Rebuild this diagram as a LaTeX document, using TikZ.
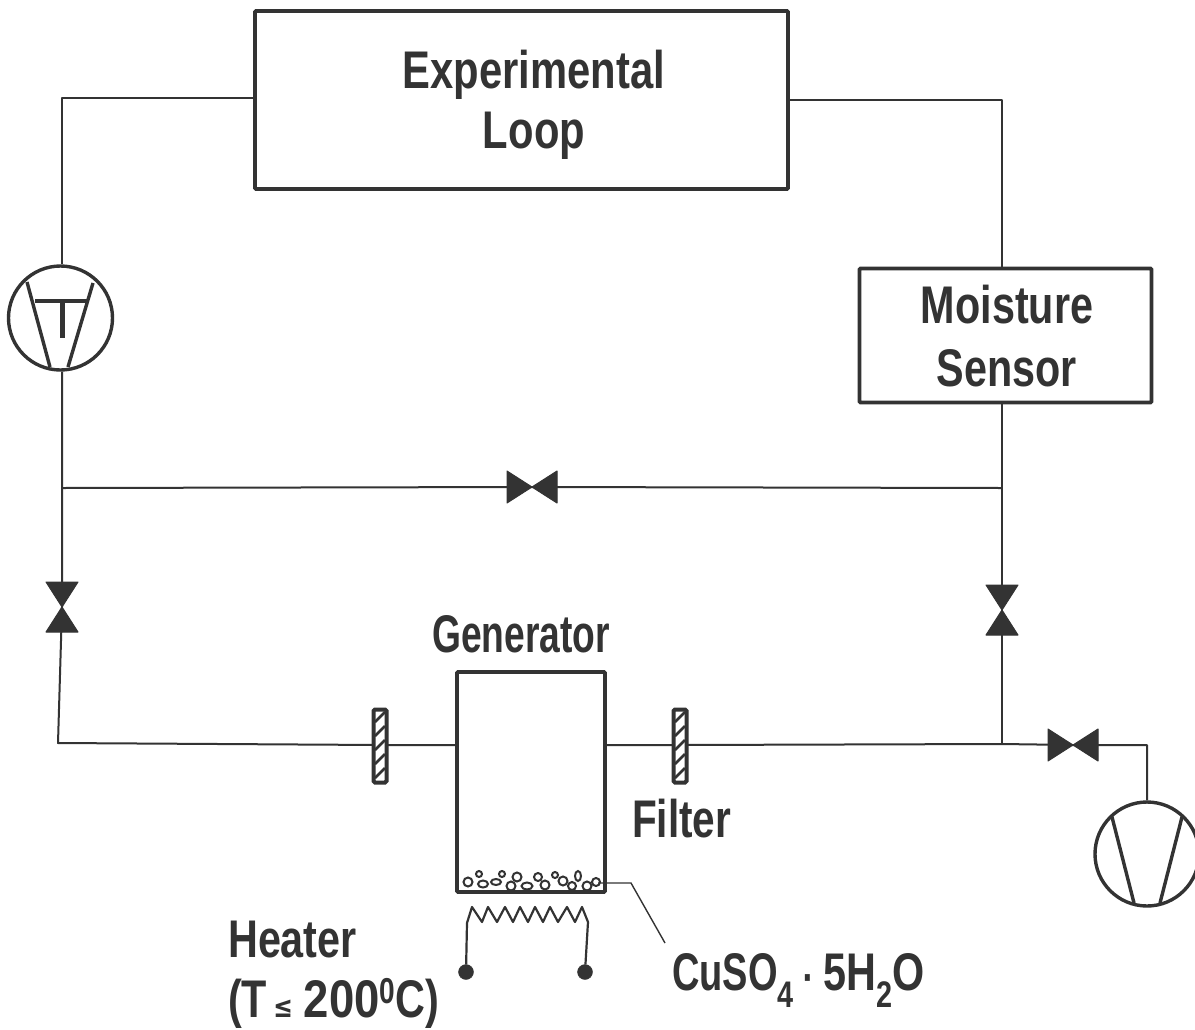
\documentclass[tikz,border=0pt]{standalone}
\usepackage{fontspec}
\setmainfont{Liberation Sans}
\newfontfamily\symfont{DejaVu Sans}
\definecolor{ink}{gray}{0.2}
\tikzset{
  x=1pt,y=-1pt,
  pipe/.style={draw=ink,line width=2pt,line join=round},
  thickbox/.style={draw=ink,line width=3.8pt,rounded corners=1pt,inner sep=0pt},
  lab/.style={text=ink,font=\fontsize{53}{60}\selectfont\bfseries,xscale=0.78,align=center,inner sep=0pt},
  valvefill/.style={fill=ink,draw=ink,line width=1pt,line join=round},
  pumpring/.style={draw=ink,line width=3.4pt,circle,minimum size=104pt,inner sep=0pt},
  pumpbar/.style={draw=ink,line width=3.4pt},
  filterbar/.style={draw=ink,line width=4pt,fill=white,rounded corners=1.5pt,minimum width=13pt,minimum height=73pt,inner sep=0pt},
  hatchline/.style={draw=ink,line width=2.6pt},
  grain/.style={draw=ink,line width=2pt,fill=white},
  terminal/.style={circle,fill=ink,draw=ink,minimum size=15pt,inner sep=0pt},
  heat/.style={draw=ink,line width=2.2pt,line join=round},
  leader/.style={draw=ink,line width=1.4pt},
}
\newcommand{\hvalve}[2]{%
  \filldraw[valvefill] (#1-25,#2-16) -- (#1,#2) -- (#1-25,#2+16) -- cycle;
  \filldraw[valvefill] (#1+25,#2-16) -- (#1,#2) -- (#1+25,#2+16) -- cycle;}
\newcommand{\vvalve}[2]{%
  \filldraw[valvefill] (#1-16,#2-25) -- (#1,#2) -- (#1+16,#2-25) -- cycle;
  \filldraw[valvefill] (#1-16,#2+25) -- (#1,#2) -- (#1+16,#2+25) -- cycle;}
\newcommand{\filterhatch}[1]{%
  \foreach \yy in {-28,-14,0,14,28}{\draw[hatchline] (#1-5,\yy+745+5) -- (#1+5,\yy+745-5);}}
\begin{document}
\begin{tikzpicture}
\useasboundingbox (0,0) rectangle (1195,1029);
% main nodes
\node[thickbox,minimum width=533pt,minimum height=178pt] (loop) at (521.5,100) {};
\node[lab,xscale=1.01] (looptext) at (534,104.5) {Experimental\\Loop};
\node[thickbox,minimum width=292pt,minimum height=134pt] (sensor) at (1005.5,335.5) {};
\node[lab,font=\fontsize{53}{63}\selectfont\bfseries] (sensortext) at (1007,336) {Moisture\\Sensor};
\node[thickbox,minimum width=148pt,minimum height=220pt] (gen) at (531,782) {};
\node[lab,xscale=0.9,anchor=base] (gentext) at (521,652) {Generator};
% pumps
\node[pumpring] (pumpT) at (60.5,318) {};
\node[pumpring] (pumpV) at (1147,854) {};
% junctions, corners
\coordinate (cTL) at (62,98);
\coordinate (jL) at (62,488);
\coordinate (vL) at (62,607);
\coordinate (cBL) at (58,743);
\coordinate (f1) at (380,745);
\coordinate (f2) at (680,745);
\coordinate (jR) at (1002,744);
\coordinate (jRU) at (1002,488);
\coordinate (vR) at (1002,610);
\coordinate (vM) at (532,487);
\coordinate (v3) at (1073,745);
\coordinate (cR) at (1147,745);
\coordinate (cTR) at (1002,100);
% pipes
\draw[pipe] (loop.west |- cTL) -- (cTL) -- (pumpT.north -| cTL);
\draw[pipe] (pumpT.south -| jL) -- (jL) -- (vL) -- (cBL) -- (f1) -- (gen.west |- f1);
\draw[pipe] (jL) -- (vM) -- (jRU);
\draw[pipe] (loop.east |- cTR) -- (cTR) -- (sensor.north -| cTR);
\draw[pipe] (sensor.south -| jRU) -- (jRU) -- (vR) -- (jR);
\draw[pipe] (gen.east |- f2) -- (f2) -- (jR) -- (v3) -- (cR) -- (pumpV.north);
% valves
\hvalve{532}{487}
\vvalve{62}{607}
\vvalve{1002}{610}
\hvalve{1073}{745}
% filters
\node[filterbar] (filterA) at (380,746) {};
\filterhatch{380}
\node[filterbar] (filterB) at (680,746) {};
\filterhatch{680}
% pump bars
\draw[pumpbar] (27,282) -- (50,367);
\draw[pumpbar] (93,283) -- (68,367);
\draw[pumpbar] (35,301) -- (87,301);
\coordinate (tstem) at (62,301);
\draw[pumpbar,line width=5pt] (tstem) -- (62,338);
\draw[pumpbar] (1112,817) -- (1134,903);
\draw[pumpbar] (1182,817) -- (1160,903);
% grains
\foreach \gx/\gy/\ga/\gb in {468/882/4.5/4.5,479/874/3/3,483/884/5/3.5,496/882/5/3,502/874/3/3,517/877/4.5/4.5,511/886/4.5/4.5,527/886/5.5/3.5,538/877/4/4,545/885/4.5/4.5,555/875/3/3,563/881/4.5/4.5,572/886/4/4,578/876/3/5,587/886/4.5/4.5,596/882/4/4}{
  \draw[grain] (\gx,\gy) ellipse ({\ga} and {\gb});}
% heater
\node[terminal] (t1) at (466,972) {};
\node[terminal] (t2) at (585,972) {};
\draw[heat] (t1) -- (467,923) -- (472,907) -- (482,922) -- (488,907) -- (497,922) -- (505,907) -- (513,922) -- (520,907) -- (528,922) -- (535,907) -- (543,922) -- (550,907) -- (558,922) -- (567,907) -- (575,922) -- (582,907) -- (588,922) -- (t2);
% leader
\coordinate (lead0) at (598,883);
\coordinate (lead1) at (631,883);
\coordinate (lead2) at (665,943);
\draw[leader] (lead0) -- (lead1) -- (lead2);
% labels
\node[lab,anchor=base west] (cutext) at (672,990) {\scalebox{.92}[1]{CuSO}\raisebox{-17pt}{\fontsize{37}{40}\selectfont 4}\kern 11pt{\symfont\fontsize{36}{36}\selectfont\bfseries ·}\kern 13pt 5H\raisebox{-17pt}{\fontsize{37}{40}\selectfont 2}\kern 1pt O};
\node[lab,anchor=base west,xscale=0.98] (filtertext) at (632,837) {Filter};
\node[lab,anchor=west,align=left] (heatertext) at (228,975) {Heater\\(T\kern 8pt{\symfont\fontsize{30}{30}\selectfont ≤}\kern 14pt \scalebox{1.1}[1]{200}\raisebox{14pt}{\fontsize{36}{36}\selectfont 0}C)};
\end{tikzpicture}
\end{document}
